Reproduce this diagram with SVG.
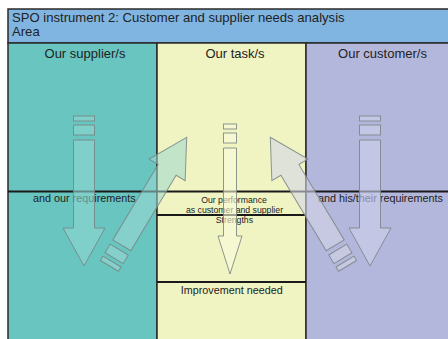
<svg xmlns="http://www.w3.org/2000/svg" xmlns:xlink="http://www.w3.org/1999/xlink" width="448" height="339" viewBox="0 0 448 339">
<style>
text{font-family:"Liberation Sans",Arial,sans-serif;fill:#222}
.title{font-size:13.1px}
.colh{font-size:13px;text-anchor:middle}
.lbl{font-size:10.8px}
.sm{font-size:8.7px;text-anchor:middle}
.rule{stroke:#1a1a1a;stroke-width:1.8;fill:none}
.arr{stroke:#7a8585;stroke-width:1;stroke-opacity:0.85}
</style>
<defs>
<g id="wide">
<path d="M0,0 L-21,-38 L-10.5,-38 L-10.5,-126 L10.5,-126 L10.5,-38 L21,-38 Z"/>
<rect x="-10.5" y="-141" width="21" height="10"/>
<rect x="-10.5" y="-150" width="21" height="5"/>
</g>
<g id="narrow">
<path d="M0,0 L-12,-38 L-6.5,-38 L-6.5,-126 L6.5,-126 L6.5,-38 L12,-38 Z"/>
<rect x="-6.5" y="-141" width="13" height="10"/>
<rect x="-6.5" y="-150" width="13" height="5"/>
</g>
</defs>
<rect x="0" y="0" width="448" height="339" fill="#ffffff"/>
<g id="header">
<rect x="8" y="9" width="445" height="34" fill="#80b5e1" stroke="#2a2a2a" stroke-width="1.5"/>
<text class="title" x="12" y="22">SPO instrument 2: Customer and supplier needs analysis</text>
<text class="title" x="12" y="35.5">Area</text>
</g>
<g id="col-supplier">
<rect x="8" y="43" width="149" height="300" fill="#68c5c0" stroke="#2a2a2a" stroke-width="1.5"/>
<text class="colh" x="85" y="58">Our supplier/s</text>
</g>
<g id="col-task">
<rect x="157" y="43" width="149" height="300" fill="#f0f4c2" stroke="#2a2a2a" stroke-width="1.5"/>
<text class="colh" x="235" y="58">Our task/s</text>
</g>
<g id="col-customer">
<rect x="306" y="43" width="149" height="300" fill="#b4b7dc" stroke="#2a2a2a" stroke-width="1.5"/>
<text class="colh" x="382.5" y="58">Our customer/s</text>
</g>
<g id="rows">
<line class="rule" x1="8" y1="191.5" x2="448" y2="191.5"/>
<line class="rule" x1="157" y1="215" x2="306" y2="215"/>
<line class="rule" x1="157" y1="282" x2="306" y2="282"/>
</g>
<g id="labels">
<text class="lbl" x="33" y="201.5">and our requirements</text>
<text class="lbl" x="318" y="201.5">and his/their requirements</text>
<text class="sm" x="234" y="202.8">Our performance</text>
<text class="sm" x="234.5" y="213.3">as customer and supplier</text>
<text class="sm" x="234.4" y="223.3">Strengths</text>
<text class="lbl" x="231.7" y="293.5" text-anchor="middle">Improvement needed</text>
</g>
<g id="connectors">
<use xlink:href="#wide" class="arr" fill="#8fd6d0" fill-opacity="0.6" transform="translate(84,266)"/>
<use xlink:href="#narrow" class="arr" fill="#f8fad8" fill-opacity="0.6" transform="translate(230,274)"/>
<use xlink:href="#wide" class="arr" fill="#cfd1ec" fill-opacity="0.6" transform="translate(370,266)"/>
<use xlink:href="#wide" class="arr" fill="#9dd8d2" fill-opacity="0.55" transform="translate(186.7,137.3) rotate(-149)"/>
<use xlink:href="#wide" class="arr" fill="#d4d6e6" fill-opacity="0.6" transform="translate(270.3,137.3) rotate(149)"/>
</g>
</svg>
